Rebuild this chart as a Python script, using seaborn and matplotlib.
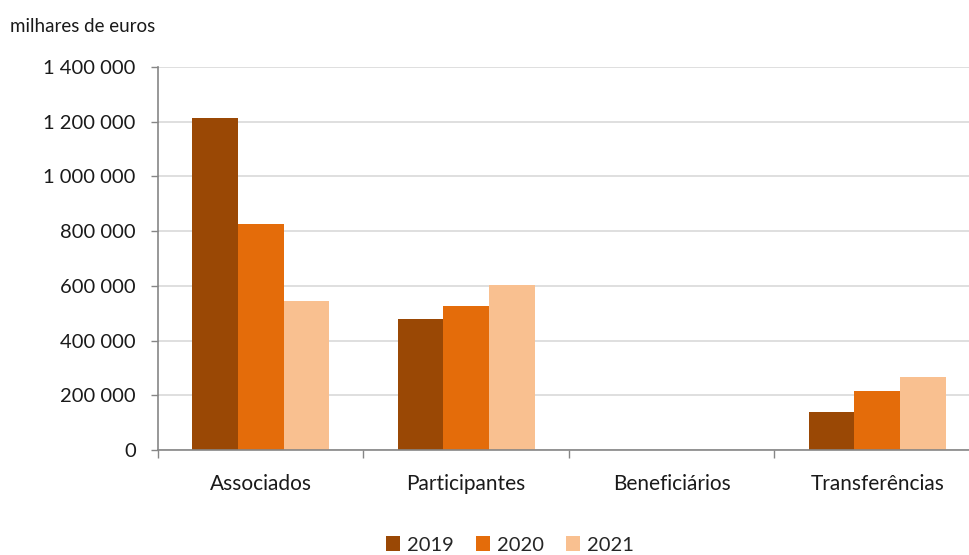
import matplotlib
matplotlib.use("Agg")
import matplotlib.pyplot as plt
import seaborn as sns
import pandas as pd
from matplotlib.patches import Patch

categories = ["Associados", "Participantes", "Beneficiários", "Transferências"]
years = ["2019", "2020", "2021"]
values_2019 = [1215000, 480000, 0, 138000]
values_2020 = [826000, 527000, 0, 214000]
values_2021 = [545000, 603000, 0, 267000]
yticks = [0, 200000, 400000, 600000, 800000, 1000000, 1200000, 1400000]
ytick_labels = ["0", "200 000", "400 000", "600 000", "800 000", "1 000 000", "1 200 000", "1 400 000"]
colors = ["#9A4805", "#E46C0A", "#F9C090"]

rows = []
for yr, vals in zip(years, [values_2019, values_2020, values_2021]):
    for c, v in zip(categories, vals):
        rows.append({"categoria": c, "ano": yr, "valor": v})
df = pd.DataFrame(rows)

sns.set_theme(style="white")
plt.rcParams["font.family"] = ["Lato", "DejaVu Sans"]

W, H = 970, 555
fig = plt.figure(figsize=(W / 100, H / 100), dpi=100)
ax = fig.add_axes([158 / W, (H - 450) / H, (980 - 158) / W, (450 - 67) / H])

sns.barplot(data=df, x="categoria", y="valor", hue="ano", order=categories,
            hue_order=years, palette=colors, saturation=1, width=0.667, ax=ax,
            edgecolor="none", linewidth=0, legend=False, errorbar=None)

ax.set_ylim(0, 1400000)
ax.set_xlim(-0.5, 3.5)
ax.set_yticks(yticks)
ax.set_yticklabels(ytick_labels, fontsize=14.5, color="#1a1a1a")
ax.yaxis.grid(True, color="#d9d9d9", linewidth=1.2)
ax.set_axisbelow(True)

ax.set_xticks([-0.5, 0.5, 1.5, 2.5, 3.5])
ax.set_xticklabels([])
ax.set_xticks(range(len(categories)), minor=True)
ax.set_xticklabels(categories, minor=True, fontsize=15, color="#1a1a1a")
ax.tick_params(axis="x", which="major", length=6, width=1, color="#868686", direction="out", bottom=True)
ax.tick_params(axis="x", which="minor", length=0, pad=17)
ax.tick_params(axis="y", length=5, width=1, color="#868686", direction="out", left=True, pad=11)

for s in ["top", "right"]:
    ax.spines[s].set_visible(False)
for s in ["left", "bottom"]:
    ax.spines[s].set_color("#868686")
    ax.spines[s].set_linewidth(1.2)

ax.set_xlabel("")
ax.set_ylabel("")

fig.text(10 / W, 1 - 27 / H, "milhares de euros", fontsize=13.5, color="#1a1a1a", va="center", ha="left")

handles = [Patch(facecolor=c, edgecolor="none") for c in colors]
fig.legend(handles, years, loc="center", bbox_to_anchor=(510 / W, 1 - 545 / H), ncol=3,
           frameon=False, fontsize=14.5, handlelength=0.7, handleheight=0.7,
           handletextpad=0.35, columnspacing=1.1, borderaxespad=0, borderpad=0)

fig.savefig("out.png", dpi=100)
